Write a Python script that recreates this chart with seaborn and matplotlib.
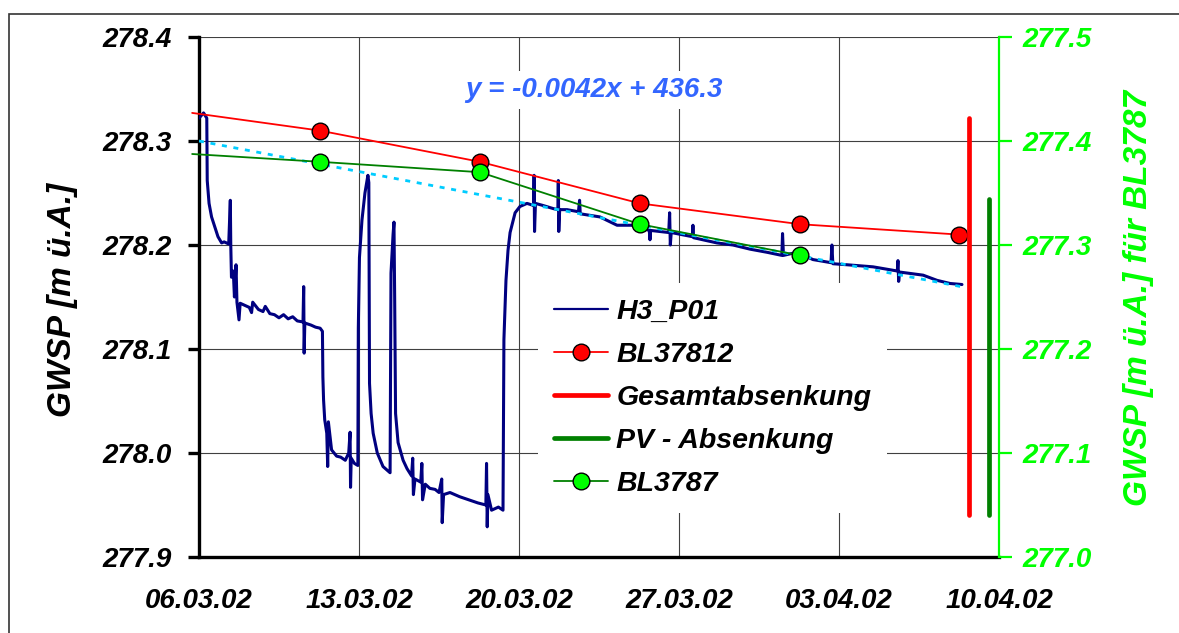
import matplotlib
matplotlib.use("Agg")
import matplotlib.pyplot as plt
from matplotlib.lines import Line2D
from matplotlib.patches import Rectangle
import numpy as np
import pandas as pd
import seaborn as sns

START = pd.Timestamp("2002-03-06")

# H3_P01 logger record: days after 06.03.02 and water level [m ü.A.]
h3_days = [
    0.00, 0.20, 0.34, 0.36, 0.44, 0.55, 0.70, 0.83, 0.99, 1.10, 1.30, 1.37, 1.39,
    1.42, 1.50, 1.55, 1.62, 1.66, 1.75, 1.80, 2.00, 2.20, 2.30, 2.35, 2.60, 2.80,
    2.90, 3.10, 3.30, 3.50, 3.70, 3.90, 4.10, 4.30, 4.55, 4.58, 4.60, 4.63, 4.90,
    5.10, 5.30, 5.40, 5.42, 5.45, 5.50, 5.59, 5.63, 5.66, 5.80, 6.02, 6.20, 6.40,
    6.55, 6.61, 6.63, 6.66, 6.80, 6.95, 6.97, 7.02, 7.13, 7.26, 7.39, 7.43, 7.46,
    7.53, 7.62, 7.80, 8.05, 8.36, 8.40, 8.49, 8.53, 8.56, 8.60, 8.71, 8.93, 9.10,
    9.30, 9.35, 9.38, 9.45, 9.70, 9.75, 9.78, 9.90, 10.10, 10.33, 10.50, 10.62,
    10.64, 10.70, 10.98, 11.40, 11.80, 12.20, 12.55, 12.58, 12.61, 12.64, 12.80,
    13.10, 13.30, 13.34, 13.43, 13.52, 13.61, 13.83, 14.04, 14.35, 14.64, 14.66,
    14.68, 14.72, 15.05, 15.50, 15.70, 15.72, 15.74, 15.78, 16.10, 16.60, 16.65,
    16.68, 17.54, 18.29, 18.99, 19.70, 19.73, 19.76, 20.55, 20.59, 20.62, 20.66,
    21.58, 21.61, 21.64, 22.66, 23.36, 24.11, 24.85, 25.50, 25.53, 25.57, 26.16,
    26.86, 27.65, 27.69, 27.73, 28.35, 29.49, 30.55, 30.58, 30.61, 30.65, 31.68,
    32.29, 32.86, 33.38,
]
h3_level = [
    278.322, 278.327, 278.322, 278.262, 278.240, 278.227, 278.217, 278.208, 278.202,
    278.203, 278.201, 278.243, 278.200, 278.169, 278.175, 278.150, 278.181, 278.145,
    278.128, 278.144, 278.142, 278.140, 278.135, 278.145, 278.138, 278.136, 278.141,
    278.134, 278.133, 278.130, 278.133, 278.129, 278.131, 278.127, 278.126, 278.160,
    278.096, 278.125, 278.123, 278.121, 278.120, 278.117, 278.073, 278.051, 278.032,
    278.019, 277.987, 278.030, 278.003, 277.997, 277.996, 277.993, 278.000, 278.020,
    277.967, 277.995, 277.990, 277.988, 278.120, 278.188, 278.224, 278.250, 278.267,
    278.260, 278.067, 278.038, 278.019, 278.000, 277.987, 277.981, 278.173, 278.210,
    278.222, 278.150, 278.038, 278.010, 277.993, 277.985, 277.978, 277.995, 277.960,
    277.975, 277.972, 277.990, 277.955, 277.970, 277.966, 277.965, 277.962, 277.975,
    277.933, 277.960, 277.962, 277.958, 277.955, 277.952, 277.950, 277.990, 277.929,
    277.960, 277.945, 277.948, 277.945, 278.109, 278.166, 278.195, 278.212, 278.231,
    278.237, 278.240, 278.238, 278.267, 278.213, 278.240, 278.238, 278.235, 278.234,
    278.262, 278.213, 278.234, 278.234, 278.232, 278.243, 278.230, 278.227, 278.219,
    278.219, 278.214, 278.205, 278.214, 278.212, 278.231, 278.200, 278.212, 278.208,
    278.219, 278.207, 278.202, 278.200, 278.196, 278.193, 278.190, 278.211, 278.190,
    278.193, 278.186, 278.183, 278.200, 278.182, 278.181, 278.179, 278.175, 278.185,
    278.165, 278.174, 278.171, 278.166, 278.163, 278.162,
]

# BL37812 readings (left axis); the first value carries no marker
bl37812_days = [-0.30, 5.29, 12.29, 19.29, 26.29, 33.26]
bl37812_level = [278.327, 278.31, 278.28, 278.24, 278.22, 278.21]

# BL3787 readings (right axis); the first value carries no marker
bl3787_days = [-0.30, 5.29, 12.29, 19.29, 26.29]
bl3787_level = [277.3875, 277.38, 277.37, 277.32, 277.29]

# linear trend of H3_P01
trend_slope = -0.0042
trend_start_level = 278.30
trend_days = [0.0, 33.30]
trend_label = "y = -0.0042x + 436.3"

# drawdown bars
gesamt_day = 33.68
gesamt_range = [277.94, 278.322]      # left axis
pv_day = 34.56
pv_range = [277.04, 277.344]          # right axis

tick_days = [0, 7, 14, 21, 28, 35]
tick_labels = ["06.03.02", "13.03.02", "20.03.02", "27.03.02", "03.04.02", "10.04.02"]
left_ticks = [277.9, 278.0, 278.1, 278.2, 278.3, 278.4]
right_ticks = [277.0, 277.1, 277.2, 277.3, 277.4, 277.5]


def to_dates(days):
    return START + pd.to_timedelta(np.asarray(days, dtype=float), unit="D")


sns.set_style("white")
plt.rcParams["font.family"] = ["Liberation Sans", "DejaVu Sans"]
plt.rcParams["font.weight"] = "bold"
plt.rcParams["font.style"] = "italic"
plt.rcParams["text.color"] = "black"

NAVY = "#000080"
RED = "#FF0000"
DGREEN = "#008000"
LGREEN = "#00FF00"
CYAN = "#00CCFF"
GRID = "#404040"

fig = plt.figure(figsize=(11.79, 6.33), dpi=100)
ax = fig.add_axes([199 / 1179, 1 - 557 / 633, 800 / 1179, 520 / 633])
ax2 = ax.twinx()

df_h3 = pd.DataFrame({"date": to_dates(h3_days), "level": h3_level})
sns.lineplot(data=df_h3, x="date", y="level", ax=ax, color=NAVY, lw=2.2,
             estimator=None, sort=False, zorder=3)

trend_vals = [trend_start_level + trend_slope * d for d in trend_days]
ax.plot(to_dates(trend_days), trend_vals, color=CYAN, lw=2.0,
        linestyle=(0, (1.8, 2.4)), zorder=4)

df_bl1 = pd.DataFrame({"date": to_dates(bl37812_days), "level": bl37812_level})
sns.lineplot(data=df_bl1, x="date", y="level", ax=ax, color=RED, lw=1.3,
             marker="o", markersize=12, markerfacecolor=RED, markeredgecolor="black",
             markeredgewidth=1.0, markevery=list(range(1, len(bl37812_days))),
             estimator=None, sort=False, clip_on=False, zorder=5)

ax.plot(to_dates([gesamt_day, gesamt_day]), gesamt_range, color=RED, lw=3.4,
        solid_capstyle="round", zorder=5)

df_bl2 = pd.DataFrame({"date": to_dates(bl3787_days), "level": bl3787_level})
sns.lineplot(data=df_bl2, x="date", y="level", ax=ax2, color=DGREEN, lw=1.3,
             marker="o", markersize=12, markerfacecolor=LGREEN, markeredgecolor="black",
             markeredgewidth=1.0, markevery=list(range(1, len(bl3787_days))),
             estimator=None, sort=False, clip_on=False, zorder=5)

ax2.plot(to_dates([pv_day, pv_day]), pv_range, color=DGREEN, lw=3.4,
         solid_capstyle="round", zorder=5)

# axes limits, ticks
xlim = to_dates([tick_days[0], tick_days[-1]])
ax.set_xlim(xlim[0], xlim[1])
ax.set_ylim(left_ticks[0], left_ticks[-1])
ax2.set_ylim(right_ticks[0], right_ticks[-1])
ax.set_xticks(to_dates(tick_days))
ax.set_xticklabels(tick_labels)
ax.set_yticks(left_ticks)
ax.set_yticklabels([f"{v:.1f}" for v in left_ticks])
ax2.set_yticks(right_ticks)
ax2.set_yticklabels([f"{v:.1f}" for v in right_ticks])

ax.set_xlabel("")
ax.set_ylabel("")
ax2.set_ylabel("")

ax.grid(True, color=GRID, lw=0.8, zorder=0)
ax.set_axisbelow(True)

ax.tick_params(axis="x", direction="out", length=8, width=2.4, pad=14,
               labelsize=20, colors="black")
ax.tick_params(axis="y", direction="out", length=8, width=2.4, pad=12,
               labelsize=20, colors="black")
ax2.tick_params(axis="y", direction="out", length=9, width=1.6, pad=8,
                labelsize=20, colors=LGREEN)

for a in (ax, ax2):
    a.spines["top"].set_visible(False)
ax.spines["left"].set_linewidth(2.4)
ax.spines["left"].set_color("black")
ax.spines["bottom"].set_linewidth(2.4)
ax.spines["bottom"].set_color("black")
ax.spines["right"].set_visible(False)
ax2.spines["left"].set_visible(False)
ax2.spines["bottom"].set_visible(False)
ax2.spines["right"].set_color(LGREEN)
ax2.spines["right"].set_linewidth(1.6)
for lbl in ax.get_xticklabels() + ax.get_yticklabels() + ax2.get_yticklabels():
    lbl.set_fontweight("bold")
    lbl.set_fontstyle("italic")

# trend equation
ax.text(0.494, 0.898, trend_label, transform=ax.transAxes, ha="center", va="center",
        fontsize=20, color="#3366FF", fontweight="bold", fontstyle="italic",
        bbox=dict(facecolor="white", edgecolor="none", pad=4), zorder=6)

# axis titles
fig.text(62 / 1179, 1 - 300 / 633, "GWSP [m ü.A.]", rotation=90, ha="center",
         va="center", fontsize=24, color="black", fontweight="bold", fontstyle="italic")
fig.text(1139 / 1179, 1 - 297.5 / 633, "GWSP [m ü.A.] für BL3787", rotation=90,
         ha="center", va="center", fontsize=24, color=LGREEN, fontweight="bold",
         fontstyle="italic")

# legend
handles = [
    Line2D([], [], color=NAVY, lw=1.6),
    Line2D([], [], color=RED, lw=1.3, marker="o", markersize=12,
           markerfacecolor=RED, markeredgecolor="black", markeredgewidth=1.0),
    Line2D([], [], color=RED, lw=3.4, solid_capstyle="round"),
    Line2D([], [], color=DGREEN, lw=3.4, solid_capstyle="round"),
    Line2D([], [], color=DGREEN, lw=1.3, marker="o", markersize=12,
           markerfacecolor=LGREEN, markeredgecolor="black", markeredgewidth=1.0),
]
labels = ["H3_P01", "BL37812", "Gesamtabsenkung", "PV - Absenkung", "BL3787"]
leg = ax2.legend(handles, labels, loc="upper left", bbox_to_anchor=(0.424, 0.527),
                 borderaxespad=0, frameon=True, fancybox=False, framealpha=1,
                 facecolor="white", edgecolor="none", handlelength=1.9,
                 handletextpad=0.3, labelspacing=0.6, borderpad=0.55,
                 prop=dict(size=20.5, weight="bold", style="italic"))
leg.set_zorder(10)
for t in leg.get_texts():
    t.set_color("black")

# chart-area frame
fig.patches.append(Rectangle((9 / 1179, -0.05), 1.2, 0.05 + 1 - 14 / 633,
                             transform=fig.transFigure, fill=False,
                             edgecolor="#333333", lw=1.2))

fig.savefig("out.png", dpi=100)
